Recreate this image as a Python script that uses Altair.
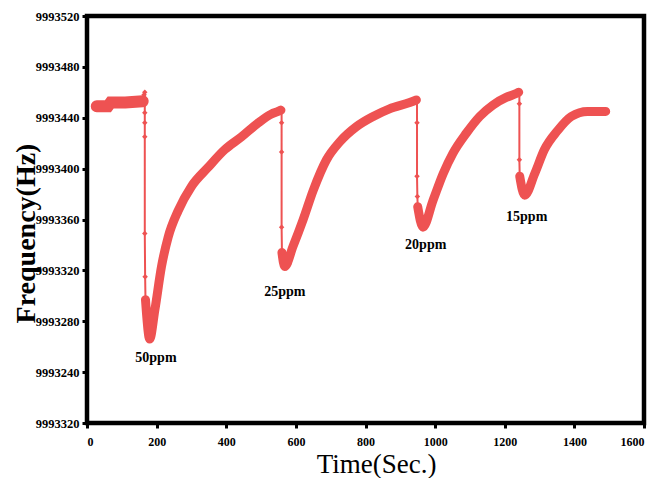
import altair as alt
import pandas as pd

# ---- data ----
# baseline band
base_t = [28, 60, 68, 110, 160]
base_f = [9993449, 9993449, 9993452, 9993452, 9993453]
# 50 ppm step (sparse points on the drop)
drop1_t = [164, 166, 166, 166, 166, 166, 167, 168]
drop1_f = [9993458, 9993460, 9993444, 9993436, 9993425, 9993349, 9993315, 9993297]
rec1_t = [168, 171, 180, 195, 214, 233, 262, 300, 348, 396, 444, 492, 530, 549, 557]
rec1_f = [9993297, 9993286, 9993266, 9993289, 9993323, 9993346, 9993367, 9993386,
          9993401, 9993415, 9993425, 9993436, 9993443, 9993445, 9993446]
# 25 ppm
drop2_t = [559, 559, 559, 559, 560]
drop2_f = [9993446, 9993436, 9993413, 9993354, 9993334]
rec2_t = [560, 568, 592, 621, 650, 688, 726, 774, 822, 869, 927, 946]
rec2_f = [9993334, 9993323, 9993339, 9993360, 9993383, 9993407, 9993421, 9993433,
          9993441, 9993447, 9993452, 9993454]
# 20 ppm
drop3_t = [948, 948, 948, 949, 950]
drop3_f = [9993454, 9993436, 9993394, 9993378, 9993370]
rec3_t = [950, 965, 994, 1023, 1051, 1090, 1128, 1166, 1204, 1233, 1240]
rec3_f = [9993370, 9993354, 9993375, 9993396, 9993412, 9993428, 9993441, 9993450,
          9993456, 9993459, 9993460]
# 15 ppm
drop4_t = [1242, 1242, 1242, 1243]
drop4_f = [9993460, 9993451, 9993407, 9993394]
rec4_t = [1243, 1257, 1286, 1314, 1352, 1391, 1438, 1490]
rec4_f = [9993394, 9993379, 9993396, 9993415, 9993430, 9993441, 9993445, 9993445]

labels = ["50ppm", "25ppm", "20ppm", "15ppm"]
label_t = [198, 568, 973, 1263]
label_f = [9993251, 9993303, 9993340, 9993362]

y_ticks = [9993200, 9993240, 9993280, 9993320, 9993360, 9993400, 9993440, 9993480, 9993520]
y_tick_labels = ["9993320", "9993240", "9993280", "9993320", "9993360", "9993400",
                 "9993440", "9993480", "9993520"]
x_ticks = [0, 200, 400, 600, 800, 1000, 1200, 1400, 1600]

# ---- tables ----
pieces = [("base", base_t, base_f, "band"), ("d1", drop1_t, drop1_f, "drop"),
          ("r1", rec1_t, rec1_f, "band"), ("d2", drop2_t, drop2_f, "drop"),
          ("r2", rec2_t, rec2_f, "band"), ("d3", drop3_t, drop3_f, "drop"),
          ("r3", rec3_t, rec3_f, "band"), ("d4", drop4_t, drop4_f, "drop"),
          ("r4", rec4_t, rec4_f, "band")]
rows = []
i = 0
for seg, ts, fs, kind in pieces:
    for t, f in zip(ts, fs):
        rows.append({"t": t, "f": f, "seg": seg, "kind": kind, "idx": i})
        i += 1
df = pd.DataFrame(rows)
lab_df = pd.DataFrame({"t": label_t, "f": label_f, "txt": labels})

RED = "#EE5252"
FONT = "Liberation Serif"

label_expr = "[" + ",".join("'%s'" % s for s in y_tick_labels) + "][round((datum.value-%d)/40)]" % y_ticks[0]

x_enc = alt.X("t:Q", scale=alt.Scale(domain=[0, 1600], nice=False),
              axis=alt.Axis(values=x_ticks, format="d", title="Time(Sec.)", grid=False,
                            domain=False, tickSize=5, tickWidth=3, tickColor="black",
                            labelFont=FONT, labelFontSize=12, labelFontWeight="bold",
                            labelColor="black", labelPadding=8,
                            titleFont=FONT, titleFontSize=27, titleFontWeight="normal",
                            titleColor="black", titleX=289, titleY=41,
                            titleAlign="center", titleBaseline="middle"))
y_enc = alt.Y("f:Q", scale=alt.Scale(domain=[9993200, 9993520], nice=False, zero=False),
              axis=alt.Axis(values=y_ticks, labelExpr=label_expr, title="Frequency(Hz)",
                            grid=False, domain=False, tickSize=5, tickWidth=3,
                            tickColor="black", labelFont=FONT, labelFontSize=12.5,
                            labelFontWeight="bold", labelColor="black", labelPadding=3,
                            titleFont=FONT, titleFontSize=28, titleFontWeight="bold",
                            titleColor="black", titleX=-53, titleY=217, titleAngle=270,
                            titleAlign="center", titleBaseline="alphabetic"))

base = alt.Chart(df)

thin = base.mark_line(color=RED, strokeWidth=2).encode(
    x=x_enc, y=y_enc, order=alt.Order("idx:Q"))

band = base.transform_filter("datum.kind == 'band' && datum.seg != 'base'").mark_line(
    color=RED, strokeWidth=9, interpolate="monotone", strokeCap="round",
    strokeJoin="round").encode(x="t:Q", y="f:Q", detail="seg:N", order=alt.Order("idx:Q"))

baseline = base.transform_filter("datum.seg == 'base'").mark_line(
    color=RED, strokeWidth=12, strokeCap="round").encode(
    x="t:Q", y="f:Q", order=alt.Order("idx:Q"))

diam = base.transform_filter("datum.kind == 'drop'").mark_point(
    shape="diamond", filled=True, color=RED, size=30, opacity=1).encode(x="t:Q", y="f:Q")

text = alt.Chart(lab_df).mark_text(font=FONT, fontSize=14, fontWeight="bold",
                                   color="black", align="center",
                                   baseline="middle").encode(x="t:Q", y="f:Q", text="txt:N")

chart = alt.layer(thin, band, baseline, diam, text).properties(
    width=557, height=407,
    autosize=alt.AutoSizeParams(type="none"),
    padding={"left": 79, "top": 8, "right": 5, "bottom": 55},
).configure_view(stroke="black", strokeWidth=4.5)

chart.save("out.html", embed_options={"renderer": "svg", "actions": False})
